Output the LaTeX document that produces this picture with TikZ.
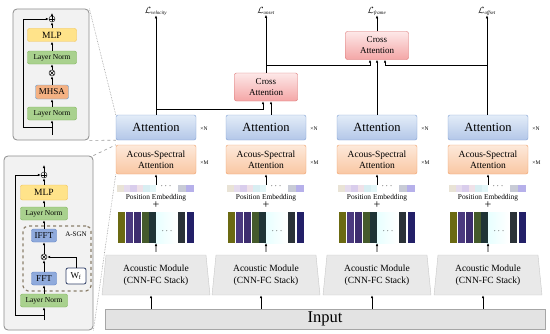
\documentclass[tikz,border=0pt]{standalone}
\usepackage{fontspec}
\setmainfont{Liberation Serif}
\usetikzlibrary{arrows.meta,positioning,shapes.geometric}

\definecolor{attTop}{HTML}{E3ECF8}
\definecolor{attBot}{HTML}{B3C7E8}
\definecolor{attLine}{HTML}{7F9FD3}
\definecolor{asaTop}{HTML}{FDE9DA}
\definecolor{asaBot}{HTML}{F9C7A3}
\definecolor{asaLine}{HTML}{EE9D66}
\definecolor{caTop}{HTML}{FDE8E8}
\definecolor{caBot}{HTML}{F4A6A6}
\definecolor{caLine}{HTML}{D9706F}
\definecolor{lnFill}{HTML}{A9D18E}
\definecolor{lnLine}{HTML}{7DB356}
\definecolor{mlpFill}{HTML}{FFE38A}
\definecolor{mlpLine}{HTML}{F2C14E}
\definecolor{mhsaFill}{HTML}{F4B183}
\definecolor{mhsaLine}{HTML}{5B9BD5}
\definecolor{fftFill}{HTML}{8FAADC}
\definecolor{fftLine}{HTML}{5B7FC4}
\definecolor{panelFill}{HTML}{F2F2F2}
\definecolor{panelLine}{HTML}{8C8C8C}
\definecolor{trapFill}{HTML}{E9E9E9}
\definecolor{trapLine}{HTML}{C8C8C8}
\definecolor{inFill}{HTML}{E3E3E3}
\definecolor{inLine}{HTML}{A6A6A6}
\definecolor{sgnLine}{HTML}{8B7F6B}
\definecolor{wfLine}{HTML}{2F3E66}
\definecolor{peA}{HTML}{E9E3D6}
\definecolor{peB}{HTML}{E5DBEE}
\definecolor{peC}{HTML}{D9CDEC}
\definecolor{peD}{HTML}{EFE1E8}
\definecolor{peE}{HTML}{D8EEF2}
\definecolor{peF}{HTML}{E3F6F8}
\definecolor{peG}{HTML}{C8CBD6}
\definecolor{peH}{HTML}{B6B0EA}
\definecolor{fbA}{HTML}{6B6A12}
\definecolor{fbB}{HTML}{4B3A7F}
\definecolor{fbC}{HTML}{3D2D6E}
\definecolor{fbD}{HTML}{455A2B}
\definecolor{fbE}{HTML}{1F3436}
\definecolor{fbF}{HTML}{2B3238}
\definecolor{fbG}{HTML}{232068}

\newcommand{\losssub}[1]{\mathcal{L}_{\mbox{\fontsize{5}{5}\selectfont\itshape #1}}}

\begin{document}
\begin{tikzpicture}[
  x=1pt,
  y=1pt,
  box/.style={draw, rounded corners=2pt, align=center, inner sep=0pt},
  attn/.style={box, top color=attTop, bottom color=attBot, draw=attLine,
    minimum width=80pt, minimum height=25pt, font=\fontsize{12.5}{14}\selectfont},
  asa/.style={box, top color=asaTop, bottom color=asaBot, draw=asaLine,
    minimum width=80pt, minimum height=29pt, font=\fontsize{9.5}{11.5}\selectfont},
  cross/.style={box, top color=caTop, bottom color=caBot, draw=caLine,
    minimum width=63pt, minimum height=28pt, font=\fontsize{9}{11}\selectfont},
  acoustic/.style={trapezium, trapezium stretches body, trapezium left angle=79,
    trapezium right angle=79, draw=trapLine, fill=trapFill, align=center,
    minimum width=108pt, minimum height=40pt, inner sep=0pt,
    font=\fontsize{9.5}{12}\selectfont},
  panel/.style={draw=panelLine, fill=panelFill, rounded corners=4pt, thick},
  ln/.style={box, fill=lnFill, draw=lnLine, minimum height=13pt,
    font=\fontsize{7.5}{8}\selectfont},
  mlp/.style={box, fill=mlpFill, draw=mlpLine, minimum height=13pt,
    font=\fontsize{9.5}{10}\selectfont},
  mhsa/.style={box, fill=mhsaFill, draw=mhsaLine, minimum width=33pt,
    minimum height=14pt, font=\fontsize{9}{10}\selectfont},
  fft/.style={box, fill=fftFill, draw=fftLine, minimum width=25pt,
    minimum height=13pt, font=\fontsize{9}{10}\selectfont},
  addop/.style={circle, draw, minimum size=6pt, inner sep=0pt,
    path picture={\draw (path picture bounding box.north) -- (path picture bounding box.south)
      (path picture bounding box.west) -- (path picture bounding box.east);}},
  mulop/.style={circle, draw, minimum size=6pt, inner sep=0pt,
    path picture={\draw (path picture bounding box.north west) -- (path picture bounding box.south east)
      (path picture bounding box.south west) -- (path picture bounding box.north east);}},
  small/.style={inner sep=0pt, font=\fontsize{5.5}{6}\selectfont},
  loss/.style={inner sep=0pt, font=\fontsize{9}{10}\selectfont},
  arr/.style={-{Latex[length=3pt,width=2.6pt]}, line width=0.6pt},
  dotlink/.style={densely dotted, gray!80, line width=0.6pt},
  dashlink/.style={dashed, gray!80, line width=0.6pt}
]
  \useasboundingbox (0,0) rectangle (550,333);

  % input and the four branches
  \node[box, rounded corners=0pt, fill=inFill, draw=inLine, minimum width=440pt,
    minimum height=20pt, font=\fontsize{16.5}{18}\selectfont] (input) at (325,14) {Input};

  \foreach \i/\cx in {1/156,2/266,3/377,4/488} {
    \node[attn] (att\i) at (\cx,205.5) {Attention};
    \node[small, right=4pt of att\i, yshift=-1pt] {×N};
    \node[asa] (asa\i) at (\cx,173.5) {Acous-Spectral\\Attention};
    \node[small, right=4pt of asa\i, yshift=-3pt] {×M};
    \foreach \c [count=\k from 0] in {peA,peB,peC,peD,peE,peF}
      \fill[\c] (\cx-39+\k*6.5,141) rectangle ++(6.5,7);
    \fill[peG] (\cx+22,141) rectangle ++(8,7);
    \fill[peH] (\cx+30,141) rectangle ++(8,7);
    \node[inner sep=0pt, font=\fontsize{9}{9}\selectfont] at (\cx+10,147) {$\cdots$};
    \coordinate (pe\i) at (\cx,148);
    \node[inner sep=0pt, font=\fontsize{7.4}{8}\selectfont] (pelabel\i) at (\cx,135.5) {Position Embedding};
    \node[inner sep=0pt, font=\fontsize{12}{12}\selectfont] (plus\i) at (\cx,127.5) {+};
    \shade[left color=cyan!10, right color=white] (\cx-2,90) rectangle (\cx+21,121);
    \foreach \dx/\c in {-38/fbA,-30/fbB,-22/fbC,-14/fbD,-7/fbE,22/fbF,31/fbG}
      \fill[\c] (\cx+\dx,90) rectangle ++(7,31);
    \node[inner sep=0pt, font=\fontsize{9}{9}\selectfont] at (\cx+11,102) {$\cdots$};
    \coordinate (fb\i) at (\cx,90);
    \node[acoustic] (am\i) at (\cx,58) {Acoustic Module\\(CNN-FC Stack)};
    \draw[arr] ([yshift=3pt]am\i.north) -- (fb\i);
    \draw[arr] (pe\i) -- (asa\i.south);
    \draw[arr] ([xshift=-5pt]am\i.south |- input.north) -- ([xshift=-5pt]am\i.south);
  }

  % heads
  \node[loss] (lvel) at (156,322) {$\losssub{velocity}$};
  \node[loss] (lons) at (266,322) {$\losssub{onset}$};
  \node[loss] (lfrm) at (377,322) {$\losssub{frame}$};
  \node[loss] (loff) at (487,322) {$\losssub{offset}$};
  \node[cross] (ca1) at (266,246) {Cross\\Attention};
  \node[cross] (ca2) at (377,287.5) {Cross\\Attention};

  \draw[arr] (att1.north) -- (lvel.south);
  \draw[arr] ([yshift=6pt]att1.north) -| ([xshift=-3pt]ca1.south);
  \draw[arr] ([xshift=5pt]att2.north) -- ([xshift=5pt]ca1.south);
  \draw[arr] (ca1.north) -- (lons.south);
  \draw[arr] ([yshift=8pt]ca1.north) -| ([xshift=-7pt]ca2.south);
  \draw[arr] (att3.north) -- (ca2.south);
  \draw[arr] ([xshift=-1pt]att4.north) -- (loff.south);
  \draw[arr] ([xshift=-1pt, yshift=50pt]att4.north) -| ([xshift=8pt]ca2.south);
  \draw[arr] (ca2.north) -- (lfrm.south);

  % transformer block detail
  \node[panel, minimum width=76pt, minimum height=131pt] (tfpanel) at (51,258.5) {};
  \node[ln, minimum width=49pt] (lnA1) at (52,219.5) {Layer Norm};
  \node[mhsa] (mhsa) at (52,241) {MHSA};
  \node[mulop] (mulA) at (52,260) {};
  \node[ln, minimum width=49pt] (lnA2) at (52,275.5) {Layer Norm};
  \node[mlp, minimum width=49pt] (mlpA) at (52,298) {MLP};
  \node[addop] (addA) at (52,314) {};
  \coordinate (inA) at (52,198);
  \coordinate (outA) at (52,320);
  \draw[arr] (inA) -- (lnA1.south);
  \draw[arr] (lnA1.north) -- (mhsa.south);
  \draw[arr] (mhsa.north) -- (mulA.south);
  \draw[arr] (mulA.north) -- (lnA2.south);
  \draw[arr] (lnA2.north) -- (mlpA.south);
  \draw[arr] (mlpA.north) -- (addA.south);
  \draw[arr] (addA.north) -- (outA);
  \draw[arr] ([yshift=8pt]inA) -- ++(-29,0) |- (addA.west);

  % acous-spectral block detail
  \node[panel, minimum width=89pt, minimum height=174pt] (aspanel) at (48.5,90) {};
  \node[ln, minimum width=47pt] (lnB1) at (44,32.5) {Layer Norm};
  \node[fft] (fft) at (44,54.5) {FFT};
  \node[box, fill=white, draw=wfLine, thick, minimum width=20pt, minimum height=16pt,
    font=\fontsize{9}{10}\selectfont] (wf) at (76,57) {W\textsubscript{f}};
  \node[mulop] (mulB) at (44,76) {};
  \node[fft] (ifft) at (44,97.5) {IFFT};
  \node[draw=sgnLine, dashed, line width=1.2pt, rounded corners=5pt,
    minimum width=68pt, minimum height=65pt] (asgn) at (57,74.5) {};
  \node[inner sep=0pt, font=\fontsize{7}{8}\selectfont] (asgnlabel) at (76,99) {A-SGN};
  \node[ln, minimum width=47pt] (lnB2) at (44,119.5) {Layer Norm};
  \node[mlp, minimum width=47pt, minimum height=15pt] (mlpB) at (44,140.5) {MLP};
  \node[addop] (addB) at (44,158) {};
  \coordinate (inB) at (44,13);
  \coordinate (outB) at (44,168);
  \draw[arr] (inB) -- (lnB1.south);
  \draw[arr] (lnB1.north) -- (fft.south);
  \draw[arr] (fft.north) -- (mulB.south);
  \draw[arr] (wf.north) |- (mulB.east);
  \draw[arr] (mulB.north) -- (ifft.south);
  \draw[arr] (ifft.north) -- (lnB2.south);
  \draw[arr] (lnB2.north) -- (mlpB.south);
  \draw[arr] (mlpB.north) -- (addB.south);
  \draw[arr] (addB.north) -- (outB);
  \draw[arr] ([yshift=5pt]inB) -- ++(-29,0) |- (addB.west);

  % zoom links
  \draw[dotlink] (tfpanel.north east) -- (att1.north west);
  \draw[dashlink] (tfpanel.south east) -- (att1.south west);
  \draw[dashlink] (aspanel.north east) -- (asa1.north west);
  \draw[dotlink] (aspanel.south east) -- (asa1.south west);
\end{tikzpicture}
\end{document}
